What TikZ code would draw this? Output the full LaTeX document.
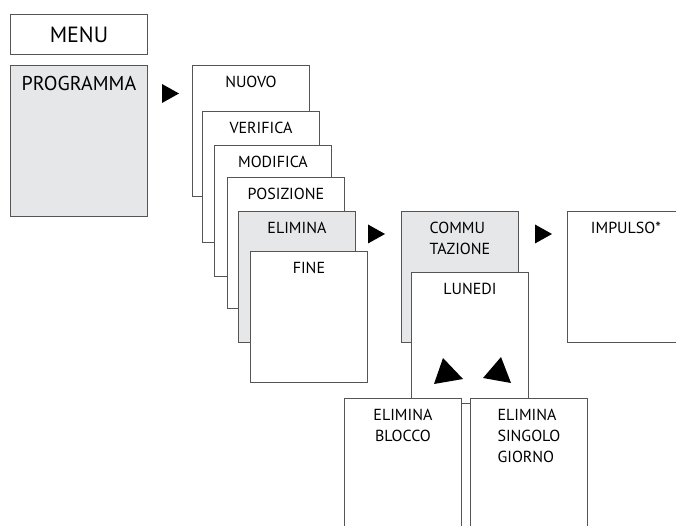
\documentclass[tikz,border=0pt]{standalone}
\usepackage{fontspec}
\setmainfont{PT Sans}
\usetikzlibrary{positioning}

\definecolor{panelgray}{RGB}{230,231,233}
\definecolor{rimgray}{RGB}{85,85,85}

\tikzset{
  card/.style={draw=rimgray, line width=0.9pt, fill=white, anchor=north west,
    minimum width=117pt, minimum height=131pt, inner sep=0pt},
  active/.style={card, fill=panelgray},
  cardtitle/.style={anchor=north, inner sep=0pt, yshift=-11pt,
    font=\fontsize{16}{21}\selectfont},
}

\begin{document}
\begin{tikzpicture}[x=1pt,y=1pt]
    \clip (0,0) rectangle (676,-526);

    % main menu
    \node[draw=rimgray, line width=0.9pt, minimum width=137pt, minimum height=40pt,
          inner sep=0pt, anchor=north west, font=\fontsize{22}{26}\selectfont] (menu) at (10,-14) {MENU};
    \node[active, minimum width=137pt, minimum height=151pt, below=10pt of menu,
          label={[cardtitle, font=\fontsize{20}{24}\selectfont]north:PROGRAMMA}] (programma) {};
    \fill (162,-84) -- ++(17,-9.5) -- ++(-17,-9.5) -- cycle;

    % program stack
    \node[card, label={[cardtitle]north:NUOVO}] (nuovo) at (192,-65) {};
    \node[card, label={[cardtitle]north:VERIFICA}] (verifica) at (202,-111) {};
    \node[card, label={[cardtitle]north:MODIFICA}] (modifica) at (214,-145) {};
    \node[card, label={[cardtitle]north:POSIZIONE}] (posizione) at (227,-177) {};
    \node[active, label={[cardtitle]north:ELIMINA}] (elimina) at (238,-211) {};
    \node[card, label={[cardtitle]north:FINE}] (fine) at (250,-251) {};
    \fill (368,-224.5) -- ++(17,-9.5) -- ++(-17,-9.5) -- cycle;

    % elimina submenu
    \node[active, label={[cardtitle, align=left]north:COMMU\\TAZIONE}] (commu) at (401,-211) {};
    \node[card, label={[cardtitle]north:LUNEDI}] (lunedi) at (411,-272) {};
    \fill (434,-384) -- (443,-358) -- (463,-379) -- cycle;
    \fill (483,-378) -- (501,-357) -- (511,-383) -- cycle;
    \fill (535,-224.5) -- ++(17,-9.5) -- ++(-17,-9.5) -- cycle;
    \node[card, label={[cardtitle]north:IMPULSO*}] (impulso) at (567,-211) {};

    \node[card, label={[cardtitle, align=center]north:ELIMINA\\BLOCCO}] (blocco) at (344,-398) {};
    \node[card, label={[cardtitle, align=left]north:ELIMINA\\SINGOLO\\GIORNO}] (giorno) at (470,-398) {};
\end{tikzpicture}
\end{document}
